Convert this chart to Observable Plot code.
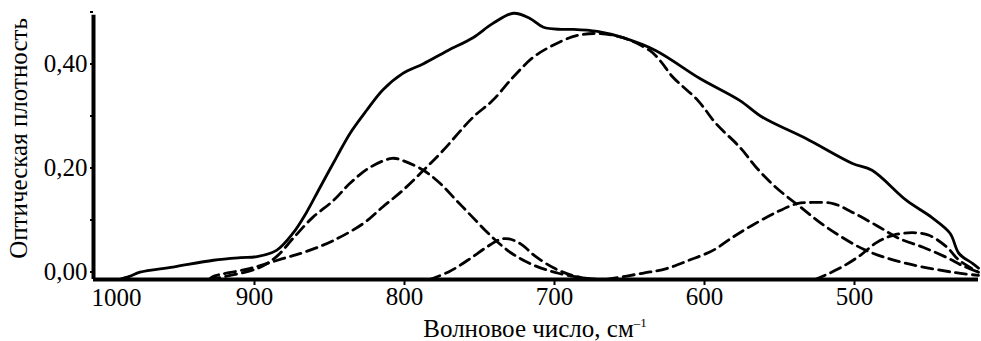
<!DOCTYPE html>
<html><head><meta charset="utf-8">
<script src="https://cdn.jsdelivr.net/npm/d3@7"></script>
<script src="https://cdn.jsdelivr.net/npm/@observablehq/plot@0.6"></script>
<style>body{margin:0;background:#fff}</style>
</head><body><div id="chart"></div>
<script>
// Measured spectrum (total)
const totalWn  = [985, 978, 971, 949, 922, 904, 893, 880, 869, 860, 851, 840, 831, 820, 809, 796, 782, 766, 749, 736, 722, 711, 702, 690, 682, 666, 649, 627, 598, 571, 556, 527, 496, 483, 460, 443, 431, 425, 416, 412];
const totalAbs = [0, 0.006, 0.014, 0.024, 0.037, 0.042, 0.044, 0.056, 0.089, 0.129, 0.177, 0.235, 0.281, 0.325, 0.365, 0.396, 0.415, 0.440, 0.465, 0.492, 0.512, 0.502, 0.485, 0.481, 0.481, 0.477, 0.465, 0.440, 0.387, 0.344, 0.312, 0.271, 0.223, 0.210, 0.152, 0.119, 0.089, 0.050, 0.031, 0.022];
// Component bands
const band1Wn  = [925, 922, 898, 876, 860, 842, 822, 809, 796, 782, 769, 749, 736, 722, 709, 696, 680, 666, 649, 631, 624, 616, 599, 587, 571, 560, 547, 531, 513, 487, 460, 427, 412];
const band1Abs = [0, 0.006, 0.021, 0.040, 0.054, 0.075, 0.108, 0.140, 0.171, 0.210, 0.248, 0.312, 0.344, 0.390, 0.427, 0.450, 0.469, 0.473, 0.465, 0.440, 0.420, 0.390, 0.344, 0.300, 0.254, 0.215, 0.177, 0.140, 0.100, 0.056, 0.031, 0.013, 0.008];
const band2Wn  = [925, 893, 880, 869, 856, 842, 831, 818, 803, 796, 782, 771, 760, 749, 736, 723, 708, 692, 675, 665];
const band2Abs = [0, 0.021, 0.044, 0.079, 0.119, 0.152, 0.185, 0.215, 0.233, 0.229, 0.210, 0.185, 0.152, 0.119, 0.081, 0.050, 0.027, 0.012, 0.003, 0];
const band3Wn  = [778, 765, 752, 740, 731, 725, 717, 708, 695, 682, 670];
const band3Abs = [0, 0.015, 0.038, 0.062, 0.077, 0.078, 0.068, 0.046, 0.022, 0.007, 0];
const band4Wn  = [660, 636, 620, 605, 589, 576, 563, 547, 533, 525, 509, 496, 480, 465, 449, 433, 423, 412];
const band4Abs = [0, 0.012, 0.021, 0.037, 0.056, 0.081, 0.104, 0.129, 0.146, 0.148, 0.146, 0.129, 0.104, 0.079, 0.062, 0.042, 0.027, 0.014];
const band5Wn  = [521, 505, 491, 480, 469, 456, 445, 433, 425, 412];
const band5Abs = [0, 0.021, 0.046, 0.071, 0.085, 0.090, 0.085, 0.062, 0.037, 0.014];

const xTicks = [900, 800, 700, 600, 500];
const xFirstTick = [1000];
const yTicks = [0, 0.1, 0.2, 0.3, 0.4, 0.5];
const yLabeled = [0, 0.2, 0.4];
const xTitle = "Волновое число, см";
const xTitleSup = "–1";
const yTitle = "Оптическая плотность";
const xDomain = [1002, 412];
const yDomain = [0, 0.5];

const rows = (wn, a) => wn.map((x, i) => ({x, y: a[i]}));
const bands = [[band1Wn, band1Abs], [band2Wn, band2Abs], [band3Wn, band3Abs], [band4Wn, band4Abs], [band5Wn, band5Abs]];
const font = "Liberation Serif, Times New Roman, serif";
const fs = 25;

const chart = Plot.plot({
  width: 981, height: 341,
  marginLeft: 93, marginRight: 3, marginTop: 19, marginBottom: 62,
  x: {domain: xDomain},
  y: {domain: yDomain},
  style: {fontFamily: font, fontSize: fs + "px", background: "white", color: "black", overflow: "visible"},
  marks: [
    ...bands.map(([w, a]) => Plot.line(rows(w, a), {x: "x", y: "y", stroke: "black", strokeWidth: 2.8, strokeDasharray: "11,6", curve: "catmull-rom"})),
    Plot.line(rows(totalWn, totalAbs), {x: "x", y: "y", stroke: "black", strokeWidth: 2.8, curve: "catmull-rom"}),
    Plot.axisX({ticks: xTicks, tickSize: 6, tickPadding: 2, strokeWidth: 2, label: null, fontSize: fs, dx: 8, tickFormat: d => String(d)}),
    Plot.text(xFirstTick, {x: d => d, frameAnchor: "bottom", lineAnchor: "bottom", dy: 26, dx: 20, fontSize: fs, text: d => String(d)}),
    Plot.axisY({ticks: yTicks, tickSize: 3, tickPadding: 3, strokeWidth: 2, label: null, fontSize: fs, dy: -7.5,
      tickFormat: d => yLabeled.includes(d) ? d.toFixed(2).replace(".", ",") : ""}),
    Plot.ruleY([0], {x1: xDomain[0], x2: xDomain[1], stroke: "black", strokeWidth: 4}),
    Plot.ruleX([xDomain[0]], {y1: 0, y2: 0.508, stroke: "black", strokeWidth: 4}),
    Plot.text([xTitle], {frameAnchor: "bottom", lineAnchor: "bottom", dy: 57, dx: -1, fontSize: fs, text: d => d}),
    Plot.text([yTitle], {frameAnchor: "left", textAnchor: "middle", lineAnchor: "middle", rotate: -90, dx: -75, dy: -11, fontSize: fs, text: d => d})
  ]
});
document.getElementById("chart").appendChild(chart);
// add superscript to x title
d3.select(chart).selectAll("text").filter(function() { return this.textContent === xTitle; })
  .append("tspan").attr("font-size", 13).attr("dy", "-0.75em").text(xTitleSup);
</script></body></html>
